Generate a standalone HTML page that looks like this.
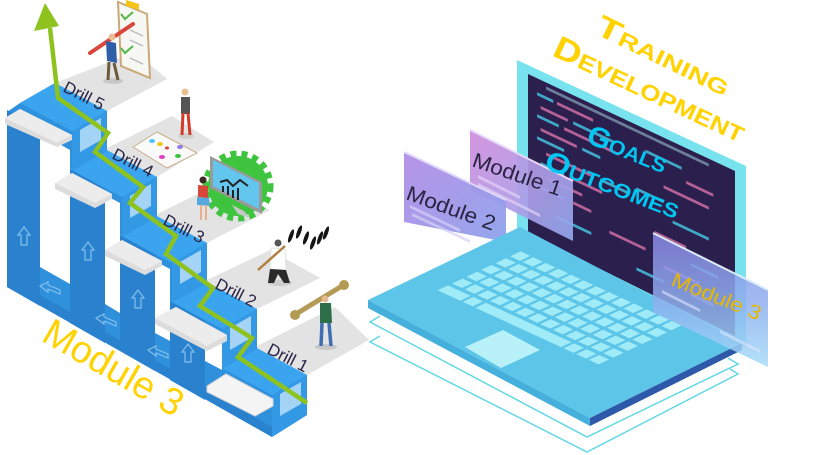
<!DOCTYPE html>
<html><head><meta charset="utf-8"><style>
html,body{margin:0;padding:0;background:#fff;}
svg{display:block;}
text{font-family:"Liberation Sans",sans-serif;}
</style></head><body>
<svg width="818" height="455" viewBox="0 0 818 455" xmlns="http://www.w3.org/2000/svg">
<defs>
 <linearGradient id="p1" x1="0" y1="0" x2="1" y2="1">
  <stop offset="0" stop-color="#d08cdc"/><stop offset="1" stop-color="#92a8ee"/>
 </linearGradient>
 <linearGradient id="p2" x1="0" y1="0" x2="1" y2="1">
  <stop offset="0" stop-color="#b48ee6"/><stop offset="1" stop-color="#8ea2ec"/>
 </linearGradient>
 <linearGradient id="p3" x1="0" y1="0" x2="0" y2="1">
  <stop offset="0" stop-color="#8a86e4"/><stop offset="0.55" stop-color="#8fb2f0"/><stop offset="1" stop-color="#a6dcf7"/>
 </linearGradient>
</defs>

<!-- ============ LEFT: STAIRCASE ============ -->
<!-- Drill platforms -->
<g fill="#e3e3e3">
 <polygon points="55,83 135,52 167,79 107,111"/>
 <polygon points="105,149 172,116 214,142 157,177"/>
 <polygon points="155,215 222,182 270,210 207,243"/>
 <polygon points="205,281 270,250 320,278 257,309"/>
 <polygon points="255,347 335,307 369,340 307,375"/>
</g>

<!-- silhouette -->
<polygon fill="#2f90dc" points="20,103 55,83 107,111 107,151 157,177 157,217 207,243 207,283 257,309 257,349 307,375 307,415 272,437 7,287 7,112"/>

<!-- column faces -->
<g fill="#2a82cf">
 <polygon points="7,110 40,129 40,306 7,287"/>
 <polygon points="70,169 105,189 105,343 70,323"/>
 <polygon points="120,235 155,255 155,371 120,351"/>
 <polygon points="170,301 205,321 205,400 170,380"/>
 <polygon points="7,276 272,427 272,437 7,287"/>
</g>
<!-- treads -->
<g fill="#3aa5ee">
 <polygon points="55,83 107,111 72,131 20,103"/>
 <polygon points="105,149 157,177 122,197 70,169"/>
 <polygon points="155,215 207,243 172,263 120,235"/>
 <polygon points="205,281 257,309 222,329 170,301"/>
 <polygon points="255,347 307,375 272,395 220,367"/>
</g>
<!-- risers -->
<g fill="#3399e4">
 <polygon points="107,111 107,151 72,171 72,131"/>
 <polygon points="157,177 157,217 122,237 122,197"/>
 <polygon points="207,243 207,283 172,303 172,263"/>
 <polygon points="257,309 257,349 222,369 222,329"/>
 <polygon points="307,375 307,415 272,437 272,395"/>
</g>
<g fill="#b8def8" opacity="0.85">
 <polygon points="80,130 101,118 101,140 80,152"/>
 <polygon points="130,196 151,184 151,206 130,218"/>
 <polygon points="180,262 201,250 201,272 180,284"/>
 <polygon points="230,328 251,316 251,338 230,350"/>
 <polygon points="280,394 301,382 301,404 280,416"/>
</g>

<!-- white gaps -->
<g fill="#ffffff">
 <polygon points="40,133 70,150 70,284 40,267"/>
 <polygon points="105,195 120,203 120,313 105,304"/>
 <polygon points="155,261 170,269 170,341 155,333"/>
 <polygon points="205,327 222,336 222,370 205,361"/>
</g>

<!-- up arrows on columns -->
<g fill="none" stroke="#8fc6ee" stroke-width="1.2" opacity="0.9">
 <polygon points="18,235 24,227 30,235 27,235 27,245 21,245 21,235"/>
 <polygon points="82,250 88,242 94,250 91,250 91,260 85,260 85,250"/>
 <polygon points="132,298 138,290 144,298 141,298 141,308 135,308 135,298"/>
 <polygon points="182,352 188,344 194,352 191,352 191,362 185,362 185,352"/>
 <polygon points="40,286 48,282 48,285 60,290 60,294 48,289 48,292"/>
 <polygon points="96,318 104,314 104,317 116,322 116,326 104,321 104,324"/>
 <polygon points="148,350 156,346 156,349 168,354 168,358 156,353 156,356"/>
</g>

<!-- left gray platforms -->
<g>
 <polygon fill="#dcdcdc" points="5,118 20,109 72,135 72,140 57,147 5,124"/>
 <polygon fill="#ececec" points="5,118 20,109 72,135 57,143"/>
 <polygon fill="#dcdcdc" points="55,183 72,173 112,194 112,199 95,208 55,189"/>
 <polygon fill="#ececec" points="55,183 72,173 112,194 95,203"/>
 <polygon fill="#dcdcdc" points="105,250 122,240 162,261 162,266 145,275 105,256"/>
 <polygon fill="#ececec" points="105,250 122,240 162,261 145,270"/>
 <polygon fill="#dcdcdc" points="155,318 176,307 227,335 227,341 207,351 155,324"/>
 <polygon fill="#ececec" points="155,318 176,307 227,335 207,346"/>
 <polygon fill="#f4f4f4" stroke="#d4d4d4" stroke-width="1" points="207,386 226,374 273,399 273,406 255,416 207,392"/>
</g>

<!-- green path -->
<polyline fill="none" stroke="#8dc21f" stroke-width="4.5" stroke-linejoin="miter" points="50,28 58,98 108,133 95,152 143,187 130,203 176,236 166,254 213,288 200,306 252,338 238,357 307,403"/>
<polygon fill="#8dc21f" points="45,3 34,31 59,26"/>

<!-- Drill labels -->
<g fill="#2b2346" font-size="17">
 <text transform="translate(62,91) rotate(27)">Drill 5</text>
 <text transform="translate(111,158) rotate(27)">Drill 4</text>
 <text transform="translate(162,224) rotate(27)">Drill 3</text>
 <text transform="translate(214,288) rotate(27)">Drill 2</text>
 <text transform="translate(266,353) rotate(27)">Drill 1</text>
</g>

<!-- Figures: Drill 5 clipboard -->
<ellipse cx="113" cy="81" rx="10" ry="3" fill="#c8c8c8"/>
<polygon points="118,2 147,14 150,78 121,66" fill="#f7f7f3" stroke="#c9a977" stroke-width="2"/>
<polygon points="126,0 139,4 139,10 126,6" fill="#f5c518"/>
<g stroke="#55b848" stroke-width="2" fill="none">
 <polyline points="121,14 125,19 133,12"/>
 <polyline points="121,48 125,53 133,46"/>
</g>
<g stroke="#bbbbbb" stroke-width="1.5">
 <line x1="130" y1="30" x2="143" y2="36"/>
 <line x1="130" y1="40" x2="143" y2="46"/>
 <line x1="130" y1="58" x2="143" y2="64"/>
</g>
<line x1="90" y1="53" x2="133" y2="24" stroke="#d9463c" stroke-width="4" stroke-linecap="round"/>
<circle cx="112" cy="37" r="3.5" fill="#e9bd94"/>
<polygon points="106,41 116,43 117,63 107,61" fill="#2f5fa8"/>
<line x1="109" y1="62" x2="108" y2="80" stroke="#6b5a3a" stroke-width="3"/>
<line x1="114" y1="63" x2="118" y2="80" stroke="#6b5a3a" stroke-width="3"/>

<!-- Drill 4 figure + whiteboard -->
<polygon points="133,147 157,132 197,153 167,168" fill="#fafafa" stroke="#c8b08a" stroke-width="1"/>
<g>
 <ellipse cx="152" cy="141" rx="3" ry="2" fill="#4fc3f7"/>
 <ellipse cx="160" cy="144" rx="3" ry="2" fill="#f5c518"/>
 <ellipse cx="167" cy="148" rx="2" ry="1.5" fill="#e53935"/>
 <ellipse cx="180" cy="147" rx="3" ry="2" fill="#8e7cf0"/>
 <ellipse cx="162" cy="157" rx="3" ry="2" fill="#e040c8"/>
 <ellipse cx="178" cy="156" rx="3" ry="2" fill="#3cc43c"/>
</g>
<ellipse cx="186" cy="136" rx="8" ry="3" fill="#cfcfcf"/>
<circle cx="185" cy="92" r="3.5" fill="#e8c090"/>
<polygon points="181,97 190,97 190,114 181,114" fill="#555555"/>
<line x1="183" y1="113" x2="182" y2="135" stroke="#d23a2a" stroke-width="3"/>
<line x1="188" y1="113" x2="190" y2="135" stroke="#d23a2a" stroke-width="3"/>

<!-- Drill 3 gear + monitor + woman -->
<circle cx="238" cy="186" r="30" fill="#3fc43f"/>
<circle cx="238" cy="186" r="32" fill="none" stroke="#3fc43f" stroke-width="7" stroke-dasharray="6 5"/>
<polygon points="210,156 262,182 262,214 210,188" fill="#9a9a9a"/>
<polygon points="213,160 259,183 259,209 213,186" fill="#63c6ef"/>
<polyline points="220,182 227,180 233,186 240,180 248,186" fill="none" stroke="#222" stroke-width="2"/>
<g stroke="#222" stroke-width="2">
 <line x1="223" y1="186" x2="223" y2="192"/><line x1="228" y1="186" x2="228" y2="195"/>
 <line x1="233" y1="190" x2="233" y2="198"/><line x1="238" y1="188" x2="238" y2="200"/>
</g>
<polygon points="232,205 244,211 250,218 238,214" fill="#c8c8c8"/>
<circle cx="203" cy="180" r="3.5" fill="#3a2a22"/>
<polygon points="198,185 208,186 208,198 198,197" fill="#d9463c"/>
<polygon points="197,197 209,198 210,206 197,205" fill="#58a8e0"/>
<line x1="201" y1="205" x2="201" y2="220" stroke="#e8b08a" stroke-width="2"/>
<line x1="206" y1="205" x2="206" y2="220" stroke="#e8b08a" stroke-width="2"/>

<!-- Drill 2 hammer man + candles -->
<ellipse cx="280" cy="283" rx="12" ry="3" fill="#cccccc"/>
<circle cx="278" cy="243" r="3.5" fill="#555"/>
<polygon points="271,248 285,249 286,270 270,269" fill="#ffffff" stroke="#dddddd" stroke-width="0.8"/>
<polygon points="270,269 286,270 290,283 284,283 278,274 274,283 268,283" fill="#2a2a2a"/>
<line x1="258" y1="270" x2="285" y2="246" stroke="#b08040" stroke-width="2.5"/>
<g fill="#151515">
 <ellipse cx="291" cy="236" rx="2" ry="7" transform="rotate(20 291 236)"/>
 <ellipse cx="299" cy="232" rx="2" ry="7" transform="rotate(20 299 232)"/>
 <ellipse cx="306" cy="238" rx="2" ry="7" transform="rotate(20 306 238)"/>
 <ellipse cx="313" cy="243" rx="2" ry="7" transform="rotate(20 313 243)"/>
 <ellipse cx="320" cy="238" rx="2" ry="7" transform="rotate(20 320 238)"/>
 <ellipse cx="326" cy="233" rx="2" ry="7" transform="rotate(20 326 233)"/>
</g>

<!-- Drill 1 wrench man -->
<ellipse cx="326" cy="347" rx="11" ry="3" fill="#c8c8c8"/>
<line x1="296" y1="314" x2="342" y2="286" stroke="#b39a55" stroke-width="5" stroke-linecap="round"/>
<circle cx="295" cy="315" r="5" fill="#b39a55"/>
<circle cx="344" cy="285" r="5" fill="#b39a55"/>
<circle cx="325" cy="299" r="3.5" fill="#e8b890"/>
<polygon points="320,303 331,303 332,323 320,323" fill="#2f6e4a"/>
<line x1="322" y1="323" x2="321" y2="346" stroke="#3f6fb0" stroke-width="3.5"/>
<line x1="329" y1="323" x2="331" y2="346" stroke="#3f6fb0" stroke-width="3.5"/>

<!-- Module 3 big label -->
<text transform="translate(40,340) rotate(30)" font-size="38" fill="#ffd200" textLength="155" lengthAdjust="spacingAndGlyphs">Module 3</text>

<!-- ============ RIGHT: LAPTOP ============ -->
<!-- outline layers -->
<g fill="none" stroke="#62d7e6" stroke-width="1.5">
 <polyline points="380,316 370,322 587,437 738,364 728,358"/>
 <polyline points="380,336 370,342 587,452 738,374 730,369"/>
</g>

<!-- screen -->
<polygon points="517,60 746,166 746,347 517,230" fill="#78e3ee"/>
<polygon points="528,74 735,171 735,336 528,233" fill="#2b1f4d"/>
<g transform="matrix(0.904 0.428 0 1 528 74)" opacity="0.9">
 <g fill="#44b8d6">
  <rect x="10" y="14" width="18" height="3"/><rect x="50" y="26" width="45" height="3"/>
  <rect x="10" y="36" width="24" height="3"/><rect x="60" y="48" width="20" height="3"/>
  <rect x="10" y="58" width="30" height="3"/><rect x="80" y="70" width="30" height="3"/>
  <rect x="14" y="82" width="26" height="3"/><rect x="10" y="106" width="30" height="3"/>
  <rect x="130" y="20" width="40" height="3"/><rect x="120" y="62" width="30" height="3"/>
  <rect x="160" y="78" width="40" height="3"/><rect x="180" y="112" width="30" height="3"/>
  <rect x="120" y="142" width="30" height="3"/><rect x="30" y="128" width="40" height="3"/>
 </g>
 <g fill="#c46a9e">
  <rect x="32" y="14" width="40" height="3"/><rect x="14" y="26" width="30" height="3"/>
  <rect x="40" y="36" width="60" height="3"/><rect x="14" y="48" width="40" height="3"/>
  <rect x="20" y="70" width="50" height="3"/><rect x="46" y="82" width="36" height="3"/>
  <rect x="20" y="94" width="40" height="3"/><rect x="50" y="106" width="20" height="3"/>
  <rect x="175" y="32" width="30" height="3"/><rect x="150" y="47" width="50" height="3"/>
  <rect x="140" y="97" width="35" height="3"/><rect x="150" y="127" width="40" height="3"/>
  <rect x="180" y="142" width="25" height="3"/><rect x="90" y="118" width="40" height="3"/>
 </g>
 <rect x="20" y="4" width="180" height="3" fill="#b9f2f8" opacity="0.5"/>
</g>

<!-- Module panels 1 & 2 -->
<polygon points="470,130 573,181 573,241 470,190" fill="url(#p1)" opacity="0.92"/>
<polyline points="470,130 573,181" fill="none" stroke="#e8d8f8" stroke-width="2"/>
<g fill="#e4d4f6" opacity="0.7">
 <polygon points="478,175 520,196 520,199 478,178"/>
 <polygon points="478,183 540,214 540,217 478,186"/>
</g>
<text transform="translate(471,166) rotate(19)" font-size="21" fill="#2a2342" textLength="93" lengthAdjust="spacingAndGlyphs">Module 1</text>

<polygon points="404,152 506,200 506,242 404,222" fill="url(#p2)" opacity="0.95"/>
<polyline points="404,152 506,200" fill="none" stroke="#e0d8fa" stroke-width="2"/>
<g fill="#d8d0f6" opacity="0.7">
 <polygon points="410,205 460,229 460,232 410,208"/>
 <polygon points="412,213 470,240 470,243 412,216"/>
</g>
<text transform="translate(405,199) rotate(20)" font-size="21" fill="#2a2342" textLength="93" lengthAdjust="spacingAndGlyphs">Module 2</text>

<!-- base -->
<polygon points="368,300 520,227 742,343 590,418" fill="#5cc5e8"/>
<polygon points="368,300 590,418 590,426 368,308" fill="#45b0dc"/>
<polygon points="590,418 742,343 742,350 590,426" fill="#2e58a8"/>
<g transform="matrix(12.6 5.8 -14.5 6.8 521 250)" fill="#a0ebf8">
 <g id="row">
  <rect x="0.1" y="0.12" width="0.78" height="0.72"/><rect x="1.1" y="0.12" width="0.78" height="0.72"/>
  <rect x="2.1" y="0.12" width="0.78" height="0.72"/><rect x="3.1" y="0.12" width="0.78" height="0.72"/>
  <rect x="4.1" y="0.12" width="0.78" height="0.72"/><rect x="5.1" y="0.12" width="0.78" height="0.72"/>
  <rect x="6.1" y="0.12" width="0.78" height="0.72"/><rect x="7.1" y="0.12" width="0.78" height="0.72"/>
  <rect x="8.1" y="0.12" width="0.78" height="0.72"/><rect x="9.1" y="0.12" width="0.78" height="0.72"/>
  <rect x="10.1" y="0.12" width="0.78" height="0.72"/><rect x="11.1" y="0.12" width="0.78" height="0.72"/>
  <rect x="12.1" y="0.12" width="0.78" height="0.72"/>
 </g>
 <use href="#row" y="1"/><use href="#row" y="2"/><use href="#row" y="3"/><use href="#row" y="4"/>
 <rect x="0.1" y="5.12" width="1.8" height="0.72"/><rect x="2.1" y="5.12" width="0.78" height="0.72"/>
 <rect x="3.1" y="5.12" width="6.8" height="0.72"/><rect x="10.1" y="5.12" width="0.78" height="0.72"/>
 <rect x="11.1" y="5.12" width="0.78" height="0.72"/><rect x="12.1" y="5.12" width="0.78" height="0.72"/>
</g>
<polygon points="465,347 503,330 540,350 501,368" fill="#b8f2f8"/>

<!-- Module 3 panel -->
<polygon points="653,233 768,290 768,367 653,312" fill="url(#p3)" opacity="0.85"/>
<polyline points="653,233 768,290" fill="none" stroke="#d8ecfa" stroke-width="2"/>
<g fill="#dfe6fb" opacity="0.6">
 <polygon points="662,290 700,309 700,312 662,293"/>
 <polygon points="720,330 760,350 760,353 720,333"/>
</g>
<text transform="translate(670,285) rotate(22)" font-size="20" fill="#e8b800" textLength="95" lengthAdjust="spacingAndGlyphs">Module 3</text>

<!-- screen texts -->
<g font-weight="bold" fill="#00c6f2" style="font-variant:small-caps">
 <text transform="translate(585,142) rotate(22)" font-size="28" textLength="84" lengthAdjust="spacingAndGlyphs">Goals</text>
 <text transform="translate(543,168) rotate(21)" font-size="28" textLength="142" lengthAdjust="spacingAndGlyphs">Outcomes</text>
</g>

<!-- titles -->
<g font-weight="bold" fill="#ffd200" style="font-variant:small-caps">
 <text transform="translate(594,33) rotate(26)" font-size="30" textLength="145" lengthAdjust="spacingAndGlyphs">Training</text>
 <text transform="translate(551,55) rotate(25)" font-size="32" textLength="208" lengthAdjust="spacingAndGlyphs">Development</text>
</g>
</svg>
</body></html>
